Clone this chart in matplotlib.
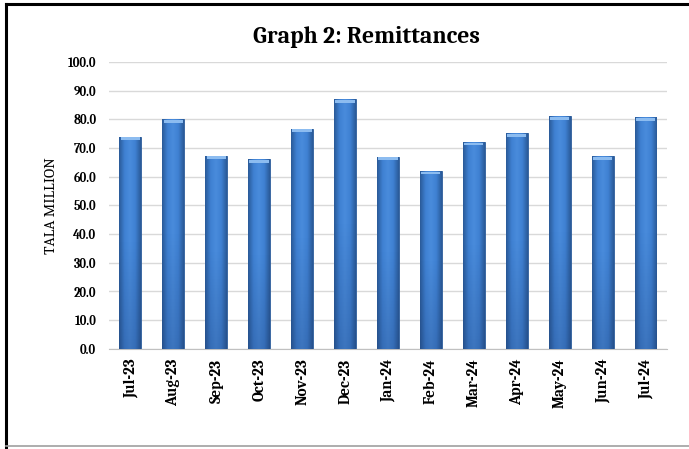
import matplotlib
matplotlib.use('Agg')
import matplotlib.pyplot as plt
import numpy as np
from matplotlib import font_manager
from matplotlib.patches import Rectangle
from matplotlib.colors import LinearSegmentedColormap

months = ['Jul-23', 'Aug-23', 'Sep-23', 'Oct-23', 'Nov-23', 'Dec-23', 'Jan-24',
          'Feb-24', 'Mar-24', 'Apr-24', 'May-24', 'Jun-24', 'Jul-24']
remit = [74.0, 80.0, 67.3, 66.1, 76.8, 87.0, 67.0, 62.0, 72.1, 75.1, 81.0, 67.1, 80.7]
yticks = np.arange(0, 101, 10)

installed = {f.name for f in font_manager.fontManager.ttflist}
serif = 'Caladea' if 'Caladea' in installed else 'DejaVu Serif'

fig = plt.figure(figsize=(6.89, 4.49), dpi=100)
ax = fig.add_axes([0.158, 0.223, 0.81, 0.639])

x = np.arange(len(months))
w = 0.51
bars = ax.bar(x, remit, width=w, color='#3b78c8', edgecolor='#2d5c98', linewidth=0.6, zorder=2)

# gradient shading inside each bar
cmap = LinearSegmentedColormap.from_list('b', ['#2a5a98', '#3f80d2', '#4a8cdc', '#3f80d2', '#2a5a98'])
grad = np.linspace(0, 1, 64).reshape(1, -1)
vcmap = LinearSegmentedColormap.from_list('v', [(0.1, 0.2, 0.4, 0.0), (0.1, 0.2, 0.4, 0.0), (0.1, 0.2, 0.4, 0.25)])
vg = np.linspace(0, 1, 64).reshape(-1, 1)
for b in bars:
    x0, h = b.get_x(), b.get_height()
    im = ax.imshow(grad, cmap=cmap, aspect='auto', extent=[x0, x0 + w, 0, h],
                   zorder=3, interpolation='bilinear')
    im.set_clip_path(b)
    # darker towards the bottom
    im2 = ax.imshow(vg, cmap=vcmap, aspect='auto', extent=[x0, x0 + w, 0, h],
                    zorder=3.5, origin='upper')
    im2.set_clip_path(b)
    ax.add_patch(Rectangle((x0 + 0.03, h - 1.2), w - 0.06, 1.0, facecolor='#8cbcf0',
                           edgecolor='none', zorder=4))

ax.set_xlim(-0.5, len(months) - 0.5)
ax.set_ylim(0, 100)
ax.set_yticks(yticks)
ax.set_yticklabels([f'{v:.1f}' for v in yticks], fontfamily=serif,
                   fontweight='bold', fontsize=9)
ax.set_xticks(x)
ax.set_xticklabels(months, rotation=90, fontfamily=serif, fontweight='bold', fontsize=11)
ax.tick_params(axis='y', length=0, pad=9)
ax.tick_params(axis='x', length=0, pad=7)
ax.grid(axis='y', color='#d9d9d9', linewidth=1, zorder=0)
ax.set_axisbelow(True)
for s in ['top', 'right', 'left']:
    ax.spines[s].set_visible(False)
ax.spines['bottom'].set_color('#c0c0c0')
ax.set_ylabel('TALA MILLION', fontfamily=serif, fontsize=11, labelpad=7)

fig.text(0.532, 0.918, 'Graph 2: Remittances', ha='center', va='center',
         fontfamily=serif, fontweight='bold', fontsize=17)

# outer frame
fig.add_artist(plt.Line2D([0.009, 0.009], [0.004, 0.992], color='black', lw=2.2, transform=fig.transFigure))
fig.add_artist(plt.Line2D([0.009, 1.0], [0.992, 0.992], color='black', lw=2.2, transform=fig.transFigure))
fig.add_artist(plt.Line2D([0.009, 1.0], [0.006, 0.006], color='#a0a0a0', lw=1.2, transform=fig.transFigure))

plt.savefig('out.png', dpi=100)
